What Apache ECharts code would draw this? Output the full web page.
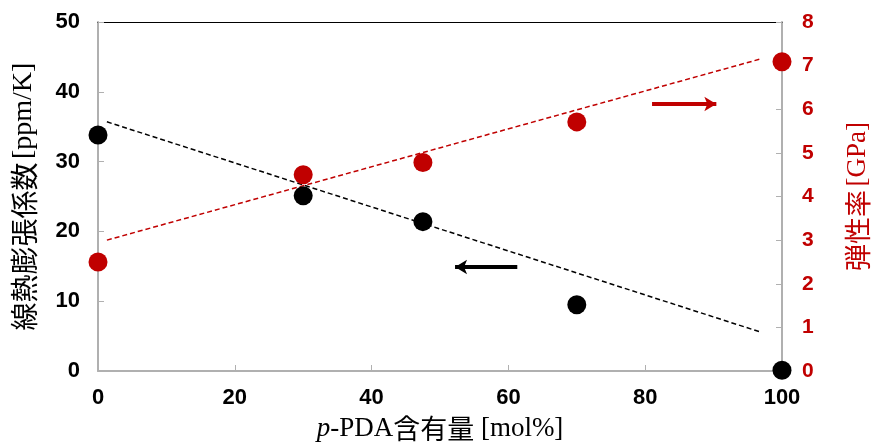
<!DOCTYPE html>
<html>
<head>
<meta charset="utf-8">
<script src="https://cdn.jsdelivr.net/npm/echarts@6/dist/echarts.min.js"></script>
<style>
  html, body { margin: 0; padding: 0; background: #fff; }
  #chart { width: 874px; height: 442px; }
</style>
</head>
<body>
<div id="chart"></div>
<script>
// p-PDA content [mol%]
var pdaContent = [0, 30, 47.5, 70, 100];
// 線熱膨張係数 [ppm/K] (left axis)
var cteValues = [33.8, 25.1, 21.4, 9.5, 0.1];
// 弾性率 [GPa] (right axis)
var modulusValues = [2.5, 4.5, 4.78, 5.71, 7.09];
// dashed guide lines
var trendX = [1.3, 96.8];
var cteTrend = [35.7, 5.6];
var modulusTrend = [3.0, 7.15];
// arrows: [from x, to x], y
var cteArrowX = [61.3, 52.2];
var cteArrowY = 14.9;
var modArrowX = [81.0, 90.4];
var modArrowY = 6.12;

var leftTicks = { min: 0, max: 50, interval: 10 };
var rightTicks = { min: 0, max: 8, interval: 1 };
var xTicks = { min: 0, max: 100, interval: 20 };

var RED = '#c00000';
var GRAY = '#b0b0b0';

function pairs(xs, ys) {
    return xs.map(function (x, i) { return [x, ys[i]]; });
}

var chart = echarts.init(document.getElementById('chart'));

function richFor(color, size) {
    return {
        cjk: { fontFamily: 'Noto Sans CJK JP', fontSize: size, color: color },
        tms: { fontFamily: 'Liberation Serif', fontSize: size, color: color },
        it: { fontFamily: 'Liberation Serif', fontSize: size, fontStyle: 'italic', color: color }
    };
}

chart.setOption({
    animation: false,
    backgroundColor: '#fff',
    grid: { left: 98, right: 92, top: 22, bottom: 71, containLabel: false, outerBoundsMode: 'none' },
    xAxis: [
        {
            type: 'value',
            min: xTicks.min, max: xTicks.max, interval: xTicks.interval,
            name: '{it|p}{tms|-PDA}{cjk|含有量}{tms| [mol%]}',
            nameLocation: 'middle',
            nameGap: 44,
            nameTextStyle: { color: '#000', rich: richFor('#000', 27) },
            axisLine: { show: true, onZero: false, lineStyle: { color: GRAY, width: 2 } },
            axisTick: { show: true, inside: true, length: 6, lineStyle: { color: GRAY, width: 1 } },
            axisLabel: { color: '#000', fontFamily: 'Liberation Sans', fontWeight: 'bold', fontSize: 22, margin: 16 },
            splitLine: { show: false }
        },
        {
            type: 'value',
            position: 'top',
            min: xTicks.min, max: xTicks.max,
            axisLine: { show: true, onZero: false, lineStyle: { color: '#000', width: 1 } },
            axisTick: { show: false },
            axisLabel: { show: false },
            splitLine: { show: false }
        }
    ],
    yAxis: [
        {
            type: 'value',
            position: 'left',
            min: leftTicks.min, max: leftTicks.max, interval: leftTicks.interval,
            name: '{cjk|線熱膨張係数} {tms|[ppm/K]}',
            nameLocation: 'middle',
            nameRotate: 90,
            nameGap: 60,
            nameTextStyle: { color: '#000', rich: richFor('#000', 28) },
            axisLine: { show: true, onZero: false, lineStyle: { color: GRAY, width: 2 } },
            axisTick: { show: true, inside: true, length: 6, lineStyle: { color: GRAY, width: 1 } },
            axisLabel: { color: '#000', fontFamily: 'Liberation Sans', fontWeight: 'bold', fontSize: 22, margin: 18 },
            splitLine: { show: false }
        },
        {
            type: 'value',
            position: 'right',
            min: rightTicks.min, max: rightTicks.max, interval: rightTicks.interval,
            name: '{cjk|弾性率} {tms|[GPa]}',
            nameLocation: 'middle',
            nameRotate: 90,
            nameGap: 62,
            nameTextStyle: { color: RED, rich: richFor(RED, 27) },
            axisLine: { show: true, onZero: false, lineStyle: { color: GRAY, width: 2 } },
            axisTick: { show: true, inside: true, length: 6, lineStyle: { color: GRAY, width: 1 } },
            axisLabel: { color: RED, fontFamily: 'Liberation Sans', fontWeight: 'bold', fontSize: 21, margin: 20 },
            splitLine: { show: false }
        }
    ],
    series: [
        {
            name: 'cteTrend',
            type: 'line',
            yAxisIndex: 0,
            data: pairs(trendX, cteTrend),
            symbol: 'none',
            lineStyle: { color: '#000', width: 1.5, type: [5, 3] },
            z: 2
        },
        {
            name: 'modulusTrend',
            type: 'line',
            yAxisIndex: 1,
            data: pairs(trendX, modulusTrend),
            symbol: 'none',
            lineStyle: { color: RED, width: 1.5, type: [5, 3] },
            z: 2
        },
        {
            name: 'cteArrow',
            type: 'line',
            yAxisIndex: 0,
            data: [],
            markLine: {
                silent: true,
                symbol: ['none', 'arrow'],
                symbolSize: [11, 12],
                label: { show: false },
                lineStyle: { color: '#000', width: 4, type: 'solid' },
                data: [[
                    { coord: [cteArrowX[0], cteArrowY] },
                    { coord: [cteArrowX[1], cteArrowY] }
                ]]
            }
        },
        {
            name: 'modArrow',
            type: 'line',
            yAxisIndex: 1,
            data: [],
            markLine: {
                silent: true,
                symbol: ['none', 'arrow'],
                symbolSize: [11, 12],
                label: { show: false },
                lineStyle: { color: RED, width: 4, type: 'solid' },
                data: [[
                    { coord: [modArrowX[0], modArrowY] },
                    { coord: [modArrowX[1], modArrowY] }
                ]]
            }
        },
        {
            name: '弾性率',
            type: 'scatter',
            yAxisIndex: 1,
            data: pairs(pdaContent, modulusValues),
            symbolSize: 19,
            itemStyle: { color: RED, opacity: 1 },
            clip: false,
            z: 5
        },
        {
            name: '線熱膨張係数',
            type: 'scatter',
            yAxisIndex: 0,
            data: pairs(pdaContent, cteValues),
            symbolSize: 19,
            itemStyle: { color: '#000', opacity: 1 },
            clip: false,
            z: 6
        }
    ]
});
</script>
</body>
</html>
